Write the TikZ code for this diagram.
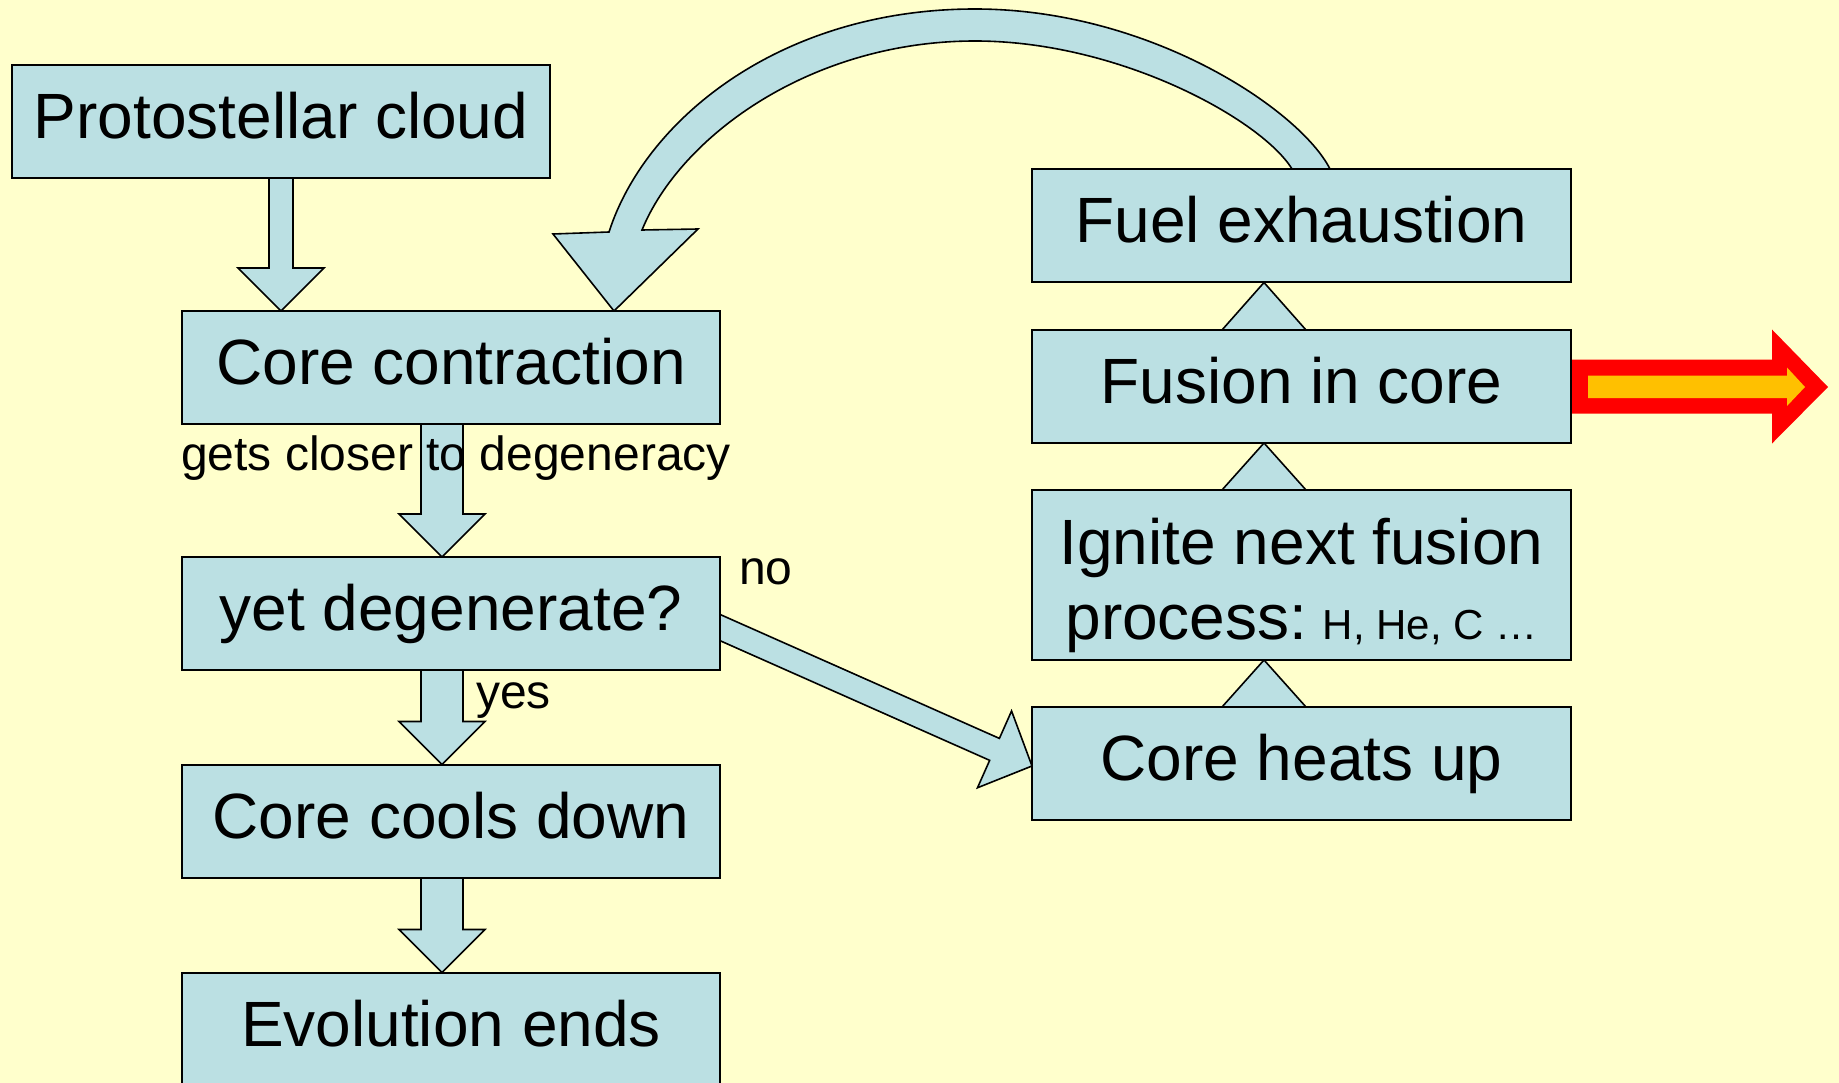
\documentclass[tikz,border=0pt]{standalone}
\usepackage{fontspec}
\setmainfont{Liberation Sans}
\usetikzlibrary{calc}
\definecolor{pagebg}{RGB}{255,255,204}
\definecolor{boxblue}{RGB}{187,224,227}
\definecolor{firered}{RGB}{255,0,0}
\definecolor{fireorange}{RGB}{255,192,0}
\pgfdeclarelayer{backlayer}
\pgfdeclarelayer{arrowlayer}
\pgfsetlayers{backlayer,arrowlayer,main}
\newcommand{\downblock}[4]{\draw[blockarrow] ($(#1)+(-#3,-4)$) -- ($(#2)+(-#3,-43)$) -- ($(#2)+(-#4,-43)$) -- (#2) -- ($(#2)+(#4,-43)$) -- ($(#2)+(#3,-43)$) -- ($(#1)+(#3,-4)$) -- cycle;}
\begin{document}
\begin{tikzpicture}[x=1pt,y=-1pt,
  stagebox/.style={draw=black,line width=2pt,fill=boxblue,minimum width=538pt,minimum height=113pt,inner sep=0pt,outer sep=0pt,text height=46pt,text depth=12pt,font=\fontsize{64}{75}\selectfont},
  blockarrow/.style={draw=black,line width=1.6pt,fill=boxblue,line join=miter},
  annot/.style={inner sep=0pt,outer sep=0pt,font=\fontsize{48}{56}\selectfont},
  bigtext/.style={inner sep=0pt,outer sep=0pt,font=\fontsize{64}{75}\selectfont}]
\useasboundingbox (0,0) rectangle (1839,1083);
\begin{pgfonlayer}{backlayer}
\fill[pagebg] (0,0) rectangle (1839,1083);
\end{pgfonlayer}

% boxes
\node[stagebox] (proto) at (281,122) {Protostellar cloud};
\node[stagebox] (cc) at (451,367.5) {Core contraction};
\node[stagebox] (yd) at (451,613.5) {yet degenerate?};
\node[stagebox] (cd) at (451,821) {Core cools down};
\node[stagebox] (ee) at (451,1029) {Evolution ends};
\node[stagebox,minimum width=539pt] (fe) at (1301.5,226) {Fuel exhaustion};
\node[stagebox,minimum width=539pt] (fc) at (1301.5,386.5) {Fusion in core};
\node[stagebox,minimum width=539pt,minimum height=170pt] (ig) at (1301.5,575) {};
\node[stagebox,minimum width=539pt] (ch) at (1301.5,763.5) {Core heats up};

% texts
\node[bigtext,anchor=base] (ig1) at (1301.5,564) {Ignite next fusion};
\node[bigtext,anchor=base] (ig2) at (1301.5,639) {process:{\fontsize{42}{48}\selectfont{} H, He, C …}};
\node[annot,anchor=base] (closer) at (456,470) {gets closer to degeneracy};
\node[annot,anchor=base west] (nolab) at (739,584) {no};
\node[annot,anchor=base west] (yeslab) at (476,708) {yes};

\begin{pgfonlayer}{arrowlayer}
% vertical block arrows
\coordinate (a1s) at (proto.south);
\coordinate (a1t) at (proto.south |- cc.north);
\downblock{a1s}{a1t}{12}{43}
\coordinate (a2s) at ($(cc.south)+(-9,0)$);
\coordinate (a2t) at ($(yd.north)+(-9,0)$);
\downblock{a2s}{a2t}{21}{43}
\coordinate (a3s) at ($(yd.south)+(-9,0)$);
\coordinate (a3t) at ($(cd.north)+(-9,0)$);
\downblock{a3s}{a3t}{21}{43}
\coordinate (a4s) at ($(cd.south)+(-9,0)$);
\coordinate (a4t) at ($(ee.north)+(-9,0)$);
\downblock{a4s}{a4t}{21}{43}

% upward triangles in the right column
\coordinate (t1a) at ($(fe.south)+(-37.5,0)$);
\coordinate (t1b) at ($(fc.north)+(-37.5,0)$);
\draw[blockarrow] ($(t1b)+(-42,0)$) -- (t1a) -- ($(t1b)+(42,0)$) -- cycle;
\coordinate (t2a) at ($(fc.south)+(-37.5,0)$);
\coordinate (t2b) at ($(ig.north)+(-37.5,0)$);
\draw[blockarrow] ($(t2b)+(-42,0)$) -- (t2a) -- ($(t2b)+(42,0)$) -- cycle;
\coordinate (t3a) at ($(ig.south)+(-37.5,0)$);
\coordinate (t3b) at ($(ch.north)+(-37.5,0)$);
\draw[blockarrow] ($(t3b)+(-42,0)$) -- (t3a) -- ($(t3b)+(42,0)$) -- cycle;

% diagonal "no" arrow
\coordinate (dS) at ($(yd.east)+(-8,10.5)$);
\coordinate (dT) at ($(ch.west)+(0,2.5)$);
\coordinate (dB) at ($(dT)!41pt!(dS)$);
\draw[blockarrow] ($(dS)!12pt!90:(dT)$) -- ($(dB)!12pt!90:(dT)$) -- ($(dB)!42pt!90:(dT)$) -- (dT) -- ($(dB)!42pt!-90:(dT)$) -- ($(dB)!12pt!-90:(dT)$) -- ($(dS)!12pt!-90:(dT)$) -- cycle;

% curved arrow from fuel exhaustion back to core contraction
\coordinate (cT) at ($(cc.north)+(163,0)$);
\draw[blockarrow] (1334,177) -- (1330,169) .. controls (1300,110) and (1150,9) .. (975,9) .. controls (780,9) and (645,120) .. (609,232) -- (553,234) -- (cT) -- (698,229) -- (642,230) .. controls (680,137) and (810,41) .. (975,41) .. controls (1120,41) and (1262,120) .. (1292,169) -- (1297,177) -- cycle;

% energy output arrow
\coordinate (rS) at (fc.east);
\fill[firered] ($(rS)+(-6,-27)$) -- ($(rS)+(201,-27)$) -- ($(rS)+(201,-57)$) -- ($(rS)+(257,0.5)$) -- ($(rS)+(201,57)$) -- ($(rS)+(201,27)$) -- ($(rS)+(-6,27)$) -- cycle;
\fill[fireorange] ($(rS)+(17,-11)$) -- ($(rS)+(216,-11)$) -- ($(rS)+(216,-19)$) -- ($(rS)+(234,0.5)$) -- ($(rS)+(216,19.5)$) -- ($(rS)+(216,11.5)$) -- ($(rS)+(17,11.5)$) -- cycle;
\end{pgfonlayer}
\end{tikzpicture}
\end{document}
